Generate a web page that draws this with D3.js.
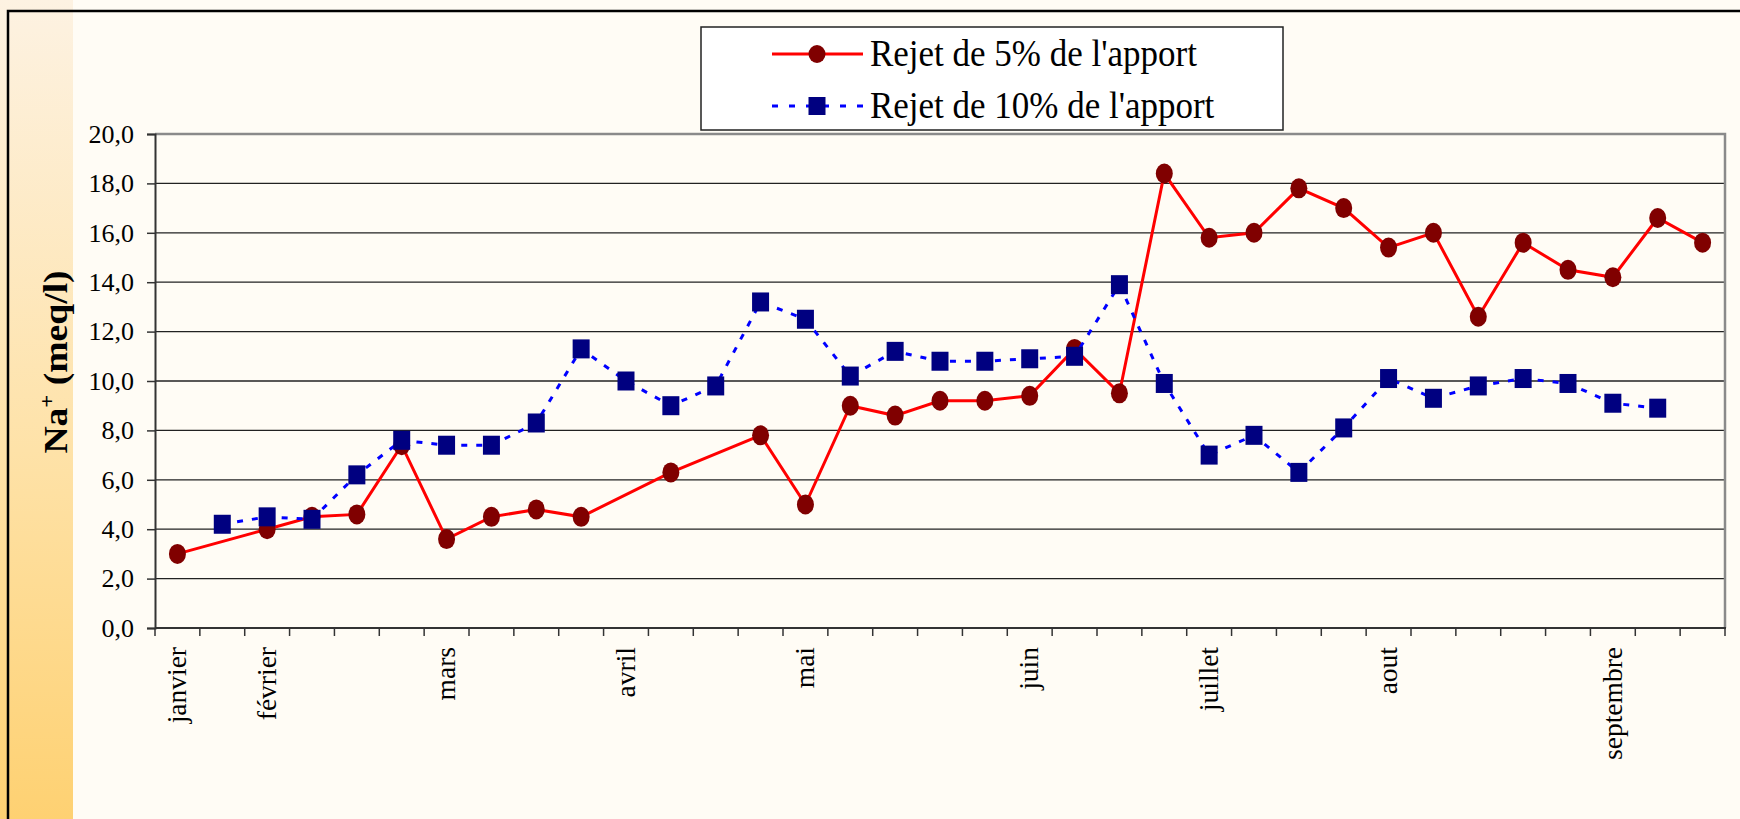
<!DOCTYPE html>
<html>
<head>
<meta charset="utf-8">
<script src="https://cdn.jsdelivr.net/npm/d3@7"></script>
<style>
  body { margin: 0; background: #fffcf5; }
  text { font-family: "Liberation Serif", "Times New Roman", serif; fill: #000; }
</style>
</head>
<body>
<script>
//variables
var width = 1740;
var height = 819;

//month labels, one slot per sampling date (empty = no label)
var categories = ["janvier", "", "février", "", "", "", "mars", "", "", "", "avril", "", "", "",
  "mai", "", "", "", "", "juin", "", "", "", "juillet", "", "", "", "aout", "", "", "", "",
  "septembre", "", ""];

//Na+ (meq/l), rejet de 5% de l'apport
var rejet5 = [3.0, null, 4.0, 4.5, 4.6, 7.4, 3.6, 4.5, 4.8, 4.5, null, 6.3, null, 7.8, 5.0,
  9.0, 8.6, 9.2, 9.2, 9.4, 11.3, 9.5, 18.4, 15.8, 16.0, 17.8, 17.0, 15.4, 16.0, 12.6,
  15.6, 14.5, 14.2, 16.6, 15.6];

//Na+ (meq/l), rejet de 10% de l'apport
var rejet10 = [null, 4.2, 4.5, 4.4, 6.2, 7.6, 7.4, 7.4, 8.3, 11.3, 10.0, 9.0, 9.8, 13.2, 12.5,
  10.2, 11.2, 10.8, 10.8, 10.9, 11.0, 13.9, 9.9, 7.0, 7.8, 6.3, 8.1, 10.1, 9.3, 9.8,
  10.1, 9.9, 9.1, 8.9, null];

var yTicks = [0, 2, 4, 6, 8, 10, 12, 14, 16, 18, 20];
var seriesNames = ["Rejet de 5% de l'apport", "Rejet de 10% de l'apport"];

//plot area
var plotLeft = 155, plotRight = 1725, plotTop = 134, plotBottom = 628;

//create canvas
var canvas = d3.select("body").append("svg")
  .attr("width", width)
  .attr("height", height);

//gradient for the left band
var grad = canvas.append("defs").append("linearGradient")
  .attr("id", "band")
  .attr("x1", 0).attr("y1", 0).attr("x2", 0).attr("y2", 1);
grad.append("stop").attr("offset", "0%").attr("stop-color", "#fdf2e2");
grad.append("stop").attr("offset", "55%").attr("stop-color", "#fee2a8");
grad.append("stop").attr("offset", "100%").attr("stop-color", "#fed172");

canvas.append("rect")
  .attr("width", width).attr("height", height)
  .attr("fill", "#fffcf5");
canvas.append("rect")
  .attr("x", 0).attr("y", 0)
  .attr("width", 73).attr("height", height)
  .attr("fill", "url(#band)");

//outer frame
canvas.append("path")
  .attr("d", "M8," + height + "V11H" + width)
  .attr("fill", "none")
  .attr("stroke", "#000")
  .attr("stroke-width", 2.5);

//scales
var x = d3.scaleBand()
  .domain(d3.range(categories.length))
  .range([plotLeft, plotRight]);

var y = d3.scaleLinear()
  .domain([0, 20])
  .range([plotBottom, plotTop]);

//gridlines
canvas.append("g")
  .selectAll("line")
  .data(yTicks.filter(function (d) { return d > 0 && d < 20; }))
  .enter()
  .append("line")
  .attr("x1", plotLeft).attr("x2", plotRight)
  .attr("y1", function (d) { return y(d); })
  .attr("y2", function (d) { return y(d); })
  .attr("stroke", "#222")
  .attr("stroke-width", 1.3);

//top and right border
canvas.append("path")
  .attr("d", "M" + plotLeft + "," + y(20) + "H" + plotRight + "V" + plotBottom)
  .attr("fill", "none")
  .attr("stroke", "#8a8a8a")
  .attr("stroke-width", 2.5);

//y axis
var yAxis = canvas.append("g")
  .attr("transform", "translate(" + plotLeft + ",0)")
  .call(d3.axisLeft(y)
    .tickValues(yTicks)
    .tickSize(8)
    .tickPadding(13)
    .tickFormat(function (d) { return d3.format(".1f")(d).replace(".", ","); }));
yAxis.select(".domain").attr("stroke", "#333").attr("stroke-width", 2);
yAxis.selectAll(".tick line").attr("stroke", "#333").attr("stroke-width", 1.5);
yAxis.selectAll("text")
  .attr("font-size", 26)
  .attr("font-family", "Liberation Serif, serif")
  .attr("fill", "#000");

//x axis, ticks on the slot boundaries
var xAxis = canvas.append("g")
  .attr("transform", "translate(0," + plotBottom + ")");
xAxis.append("line")
  .attr("x1", plotLeft).attr("x2", plotRight + 1)
  .attr("stroke", "#333").attr("stroke-width", 2);
xAxis.selectAll(".tk")
  .data(d3.range(categories.length + 1))
  .enter()
  .append("line")
  .attr("class", "tk")
  .attr("x1", function (d) { return plotLeft + d * x.step(); })
  .attr("x2", function (d) { return plotLeft + d * x.step(); })
  .attr("y1", 0).attr("y2", 8)
  .attr("stroke", "#333").attr("stroke-width", 1.5);

//month labels, rotated
xAxis.selectAll(".lbl")
  .data(categories.map(function (c, i) { return { c: c, i: i }; })
    .filter(function (d) { return d.c != ""; }))
  .enter()
  .append("text")
  .attr("class", "lbl")
  .attr("transform", function (d) {
    return "translate(" + (x(d.i) + x.bandwidth() / 2) + ",19) rotate(-90) scale(1.1,1.05)";
  })
  .attr("text-anchor", "end")
  .attr("dy", "0.33em")
  .attr("font-size", 25)
  .text(function (d) { return d.c; });

//y title
var title = canvas.append("text")
  .attr("transform", "translate(67,362) rotate(-90) scale(1.14,1)")
  .attr("text-anchor", "middle")
  .attr("font-size", 33)
  .attr("font-weight", "bold");
title.append("tspan").text("Na");
title.append("tspan").attr("font-size", 20).attr("dy", -13).text("+");
title.append("tspan").attr("dy", 13).text(" (meq/l)");

//line generator
var line = d3.line()
  .x(function (d) { return x(d.i) + x.bandwidth() / 2; })
  .y(function (d) { return y(d.v); });

function points(values) {
  return values.map(function (v, i) { return { v: v, i: i }; })
    .filter(function (d) { return d.v != null; });
}

var red = points(rejet5);
var blue = points(rejet10);

//series 5%
canvas.append("path")
  .datum(red)
  .attr("d", line)
  .attr("fill", "none")
  .attr("stroke", "#ff0000")
  .attr("stroke-width", 3);
canvas.append("g")
  .selectAll("ellipse")
  .data(red)
  .enter()
  .append("ellipse")
  .attr("cx", function (d) { return x(d.i) + x.bandwidth() / 2; })
  .attr("cy", function (d) { return y(d.v); })
  .attr("rx", 8.5).attr("ry", 10)
  .attr("fill", "#800000");

//series 10%
canvas.append("path")
  .datum(blue)
  .attr("d", line)
  .attr("fill", "none")
  .attr("stroke", "#0000ff")
  .attr("stroke-width", 3)
  .attr("stroke-dasharray", "6,9");
canvas.append("g")
  .selectAll("rect")
  .data(blue)
  .enter()
  .append("rect")
  .attr("x", function (d) { return x(d.i) + x.bandwidth() / 2 - 8.5; })
  .attr("y", function (d) { return y(d.v) - 9.5; })
  .attr("width", 17).attr("height", 19)
  .attr("fill", "#000080");

//legend
var legend = canvas.append("g");
legend.append("rect")
  .attr("x", 701).attr("y", 27)
  .attr("width", 582).attr("height", 103)
  .attr("fill", "#fff")
  .attr("stroke", "#222")
  .attr("stroke-width", 1.5);

var rows = legend.selectAll(".row")
  .data(seriesNames)
  .enter()
  .append("g")
  .attr("class", "row")
  .attr("transform", function (d, i) { return "translate(0," + (54 + i * 52) + ")"; });

rows.append("line")
  .attr("x1", 772).attr("x2", 863)
  .attr("stroke", function (d, i) { return i == 0 ? "#ff0000" : "#0000ff"; })
  .attr("stroke-width", 3)
  .attr("stroke-dasharray", function (d, i) { return i == 0 ? null : "6,11"; });

rows.filter(function (d, i) { return i == 0; })
  .append("ellipse")
  .attr("cx", 817).attr("rx", 8.5).attr("ry", 9)
  .attr("fill", "#800000");
rows.filter(function (d, i) { return i == 1; })
  .append("rect")
  .attr("x", 808.5).attr("y", -9)
  .attr("width", 17).attr("height", 18)
  .attr("fill", "#000080");

rows.append("text")
  .attr("transform", "translate(870,12) scale(1,1.08)")
  .attr("font-size", 35)
  .text(function (d) { return d; });
</script>
</body>
</html>
